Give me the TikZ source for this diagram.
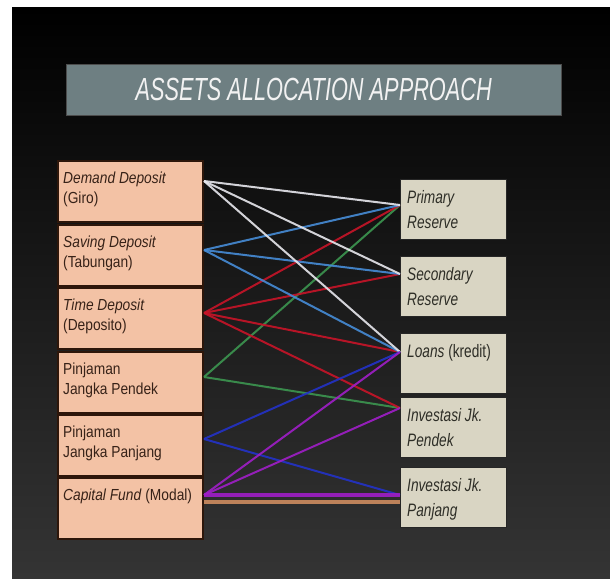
\documentclass[tikz,border=0pt]{standalone}
\usepackage{fontspec}
\setmainfont{Liberation Sans}
\newfontfamily\titlefont[FakeStretch=0.68]{Liberation Sans}
\newfontfamily\srcfont[FakeStretch=0.86]{Liberation Sans}
\newfontfamily\dstfont[FakeStretch=0.76]{Liberation Sans}
\definecolor{slate}{RGB}{110,127,130}
\definecolor{peach}{RGB}{243,194,165}
\definecolor{sand}{RGB}{217,213,195}
\definecolor{umber}{RGB}{45,22,10}
\definecolor{inkbrown}{RGB}{55,34,24}
\definecolor{inkgray}{RGB}{45,45,38}
\definecolor{bgbottom}{RGB}{52,52,52}
\definecolor{linkwhite}{RGB}{232,232,238}
\definecolor{linkblue}{RGB}{70,140,215}
\definecolor{linkred}{RGB}{200,20,40}
\definecolor{linkgreen}{RGB}{60,150,80}
\definecolor{linknavy}{RGB}{35,50,200}
\definecolor{linkpurple}{RGB}{160,30,200}
\definecolor{linkorange}{RGB}{205,140,95}
\tikzset{
  titlebar/.style={fill=slate, draw=black!70, anchor=north west,
    minimum width=495pt, minimum height=51pt, inner sep=0pt,
    text=white!90!gray, font=\titlefont\fontsize{32}{36}\selectfont\itshape},
  srcbox/.style={draw=umber, line width=2pt, fill=peach, anchor=north west,
    minimum width=145pt, minimum height=61pt, inner sep=0pt},
  dstbox/.style={draw=black!85, line width=1pt, fill=sand, anchor=north west,
    minimum width=106pt, minimum height=60pt, inner sep=0pt},
  srctext/.style={anchor=north west, align=left, inner sep=0pt, text=inkbrown,
    xshift=6pt, yshift=-12pt, font=\srcfont\fontsize{16}{20}\selectfont},
  dsttext/.style={anchor=north west, align=left, inner sep=0pt, text=inkgray,
    xshift=7pt, yshift=-11pt, font=\dstfont\fontsize{18}{25}\selectfont},
  link/.style={line width=2pt, opacity=0.9}
}

\begin{document}
\begin{tikzpicture}[x=1pt,y=-1pt]
  \useasboundingbox (0,0) rectangle (610,578);
  \fill[white] (0,0) rectangle (610,578);
  \shade[top color=black, bottom color=bgbottom] (12,8) rectangle (610,578);

  \node[titlebar] (title) at (66,64) {ASSETS ALLOCATION APPROACH};

  \node[srcbox, label={[srctext]north west:{\textit{Demand Deposit}\\(Giro)}}] (dd) at (57,160) {};
  \node[srcbox, label={[srctext]north west:{\textit{Saving Deposit}\\(Tabungan)}}] (sd) at (57,224) {};
  \node[srcbox, label={[srctext]north west:{\textit{Time Deposit}\\(Deposito)}}] (td) at (57,287) {};
  \node[srcbox, label={[srctext]north west:{Pinjaman\\Jangka Pendek}}] (pjpendek) at (57,351) {};
  \node[srcbox, label={[srctext]north west:{Pinjaman\\Jangka Panjang}}] (pjpanjang) at (57,414) {};
  \node[srcbox, label={[srctext]north west:{\textit{Capital Fund} (Modal)}}] (cf) at (57,477) {};

  \node[dstbox, label={[dsttext]north west:{\textit{Primary}\\\textit{Reserve}}}] (pr) at (400,179) {};
  \node[dstbox, label={[dsttext]north west:{\textit{Secondary}\\\textit{Reserve}}}] (sr) at (400,256) {};
  \node[dstbox, label={[dsttext]north west:{\textit{Loans} (kredit)}}] (ln) at (400,333) {};
  \node[dstbox, label={[dsttext]north west:{\textit{Investasi Jk.}\\\textit{Pendek}}}] (ip) at (400,397) {};
  \node[dstbox, label={[dsttext]north west:{\textit{Investasi Jk.}\\\textit{Panjang}}}] (il) at (400,467) {};

  \coordinate (dd-o) at ([yshift=-21pt]dd.north east);
  \coordinate (sd-o) at ([yshift=-26pt]sd.north east);
  \coordinate (td-o) at ([yshift=-26pt]td.north east);
  \coordinate (pjpendek-o) at ([yshift=-26pt]pjpendek.north east);
  \coordinate (pjpanjang-o) at ([yshift=-25pt]pjpanjang.north east);
  \coordinate (cf-o) at ([yshift=-18pt]cf.north east);
  \coordinate (cf-o2) at ([yshift=-25pt]cf.north east);
  \coordinate (pr-i) at ([yshift=-26pt]pr.north west);
  \coordinate (sr-i) at ([yshift=-18pt]sr.north west);
  \coordinate (ln-i) at ([yshift=-19pt]ln.north west);
  \coordinate (ip-i) at ([yshift=-11pt]ip.north west);
  \coordinate (il-i) at ([yshift=-28pt]il.north west);
  \coordinate (il-i2) at ([yshift=-35pt]il.north west);

  \draw[link, linkgreen] (pjpendek-o) -- (pr-i);
  \draw[link, linkgreen] (pjpendek-o) -- (ip-i);
  \draw[link, linkred] (td-o) -- (pr-i);
  \draw[link, linkred] (td-o) -- (sr-i);
  \draw[link, linkred] (td-o) -- (ln-i);
  \draw[link, linkred] (td-o) -- (ip-i);
  \draw[link, linkblue] (sd-o) -- (pr-i);
  \draw[link, linkblue] (sd-o) -- (sr-i);
  \draw[link, linkblue] (sd-o) -- (ln-i);
  \draw[link, linkwhite] (dd-o) -- (pr-i);
  \draw[link, linkwhite] (dd-o) -- (sr-i);
  \draw[link, linkwhite] (dd-o) -- (ln-i);
  \draw[link, linknavy] (pjpanjang-o) -- (ln-i);
  \draw[link, linknavy] (pjpanjang-o) -- (il-i);
  \draw[link, linkpurple] (cf-o) -- (ln-i);
  \draw[link, linkpurple] (cf-o) -- (ip-i);
  \draw[link, linkorange, line width=3.5pt] (cf-o2) -- (il-i2);
  \draw[link, linkpurple, line width=4pt] (cf-o) -- (il-i);
\end{tikzpicture}
\end{document}
